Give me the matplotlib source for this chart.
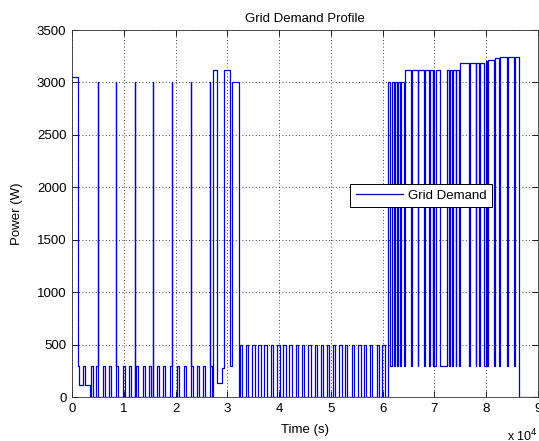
import numpy as np
import matplotlib
matplotlib.use("Agg")
import matplotlib.pyplot as plt
from matplotlib.ticker import FixedLocator, FixedFormatter

plt.rcParams['font.family'] = ['Liberation Sans', 'DejaVu Sans']
plt.rcParams['font.size'] = 9.5

# ---- Grid demand events: each row is (start s, end s, power W); overlapping rows take the max
# Early-morning block
early_on = [0, 0, 1300]
early_off = [1100, 1300, 3500]
early_p = [3050, 300, 110]

# Fridge compressor cycles during the night (300 W)
fridge_on = [2180, 3610, 4630, 5930, 7200, 8490, 9790, 11060, 12360, 13650,
             14920, 16350, 17630, 18920, 20330, 21620, 22920, 24070, 25350, 26640]
fridge_len = [420, 420, 420, 420, 420, 420, 420, 420, 420, 420,
              420, 420, 420, 420, 420, 420, 420, 420, 420, 420]
fridge_p = 300

# Short heater bursts (3000 W)
burst_on = [5020, 8490, 12160, 15640, 19310, 22970, 26600]
burst_len = [70, 70, 70, 70, 70, 70, 70]
burst_p = 3000

# Morning activity around 3e4 s
morn_on = [27160, 27930, 28960, 29340, 30570, 30950]
morn_off = [27930, 28960, 29340, 30570, 30950, 32340]
morn_p = [3120, 130, 280, 3120, 300, 3000]

# Daytime standby pulses (500 W)
day_on = [32430, 33590, 34810, 35970, 37120, 38360, 39630, 40790, 41950, 43190,
          44340, 45620, 46910, 48010, 49170, 50330, 51600, 52700, 54000, 55270,
          56370, 57530, 58820, 59950]
day_len = 480
day_p = 500

# Evening base load and high-demand periods
eve_base = (61060, 86300, 300)
eve_on = [61060, 61770, 62310, 62980, 63630, 64260, 65580, 66870, 68160, 69130,
          69770, 70230, 72450, 72960, 73610, 74250, 74890, 76810, 78100, 78740,
          79990, 80310, 81660, 82650, 84230, 85510]
eve_off = [61380, 62120, 62690, 63370, 64130, 65450, 66740, 68030, 69000, 69640,
           69960, 71040, 72830, 73480, 74120, 74760, 76680, 77970, 78610, 79600,
           80180, 81530, 82520, 84100, 85380, 86300]
eve_p = [3000, 3000, 3000, 3000, 3000, 3120, 3120, 3120, 3120, 3120,
         3120, 3120, 3120, 3120, 3120, 3120, 3190, 3190, 3190, 3190,
         3200, 3210, 3230, 3240, 3240, 3240]

x_ticks = [0, 1, 2, 3, 4, 5, 6, 7, 8, 9]
y_ticks = [0, 500, 1000, 1500, 2000, 2500, 3000, 3500]

# ---- Assemble the step series
segs = []
segs += list(zip(early_on, early_off, early_p))
segs += [(s, s + w, fridge_p) for s, w in zip(fridge_on, fridge_len)]
segs += [(s, s + w, burst_p) for s, w in zip(burst_on, burst_len)]
segs += list(zip(morn_on, morn_off, morn_p))
segs += [(s, s + day_len, day_p) for s in day_on]
segs += [eve_base]
segs += list(zip(eve_on, eve_off, eve_p))

edges = sorted({0, 90000} | {s for s, _, _ in segs} | {e for _, e, _ in segs})
levels = []
for a in edges[:-1]:
    lv = 0
    for s, e, p in segs:
        if s <= a < e:
            lv = max(lv, p)
    levels.append(lv)
levels.append(levels[-1])

fig = plt.figure(figsize=(5.39, 4.41), dpi=100)
ax = fig.add_axes([72 / 539, 1 - 397 / 441, 466 / 539, 367 / 441])
ax.step(edges, levels, where='post', color='#0000d0', lw=0.9, label='Grid Demand')

ax.set_xlim(0, 90000)
ax.set_ylim(0, 3500)
ax.xaxis.set_major_locator(FixedLocator([v * 1e4 for v in x_ticks]))
ax.xaxis.set_major_formatter(FixedFormatter([str(v) for v in x_ticks]))
ax.set_yticks(y_ticks)
ax.tick_params(direction='in', length=4, width=0.6, top=True, right=True,
               labelsize=9.5, pad=4)
ax.grid(True, color='black', linestyle=(0, (1, 3)), linewidth=0.6)
for sp in ax.spines.values():
    sp.set_linewidth(0.6)
    sp.set_color('#333333')

ax.set_title('Grid Demand Profile', fontsize=9.5, pad=6)
ax.set_xlabel('Time (s)', fontsize=9.5, labelpad=7)
ax.set_ylabel('Power (W)', fontsize=9.5, labelpad=10)
ax.text(1.0, -0.085, r'x 10$^4$', transform=ax.transAxes, ha='right', va='top', fontsize=9)

leg = ax.legend(loc='upper left', bbox_to_anchor=(0.597, 0.580), borderaxespad=0,
                fancybox=False, edgecolor='black', framealpha=1, fontsize=9.5,
                handlelength=3.6, borderpad=0.42, handletextpad=0.35)
leg.get_frame().set_linewidth(0.7)

fig.savefig('out.png', dpi=100)
